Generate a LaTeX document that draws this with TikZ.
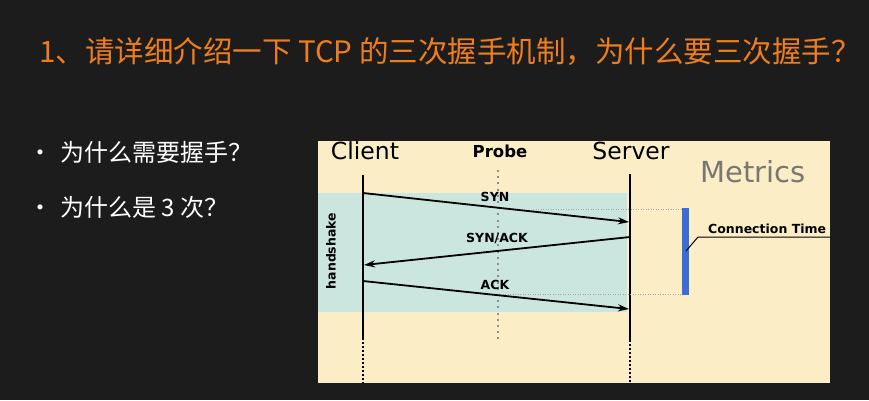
\documentclass[tikz,border=0pt]{standalone}
\usepackage{fontspec}
\setmainfont{DejaVu Sans}
\newfontfamily\cjk{Noto Sans CJK SC}
\usetikzlibrary{arrows.meta}
\definecolor{bgc}{HTML}{1C1C1C}
\definecolor{titlec}{HTML}{EE7D1E}
\definecolor{cream}{HTML}{FBEDC6}
\definecolor{band}{HTML}{CAE6DE}
\definecolor{barc}{HTML}{3B6ED4}
\definecolor{metc}{HTML}{7A7670}
\tikzset{
  lifeline/.style={line width=2.6pt},
  lifedots/.style={line width=2.6pt, dash pattern=on 2pt off 2pt},
  msg/.style={line width=1.8pt, -{Stealth[length=11pt,width=7pt]}},
  lbl/.style={font=\bfseries\fontsize{12.5}{14}\selectfont, inner sep=1pt},
  actor/.style={font=\fontsize{23.5}{26}\selectfont, inner sep=0pt},
  guide/.style={gray!70, line width=0.5pt, dotted},
  bullet/.style={anchor=west, text=white, inner sep=0pt, font=\cjk\fontsize{24}{27}\selectfont},
}
\begin{document}
\begin{tikzpicture}[x=1pt,y=-1pt]
\fill[bgc] (0,0) rectangle (869,400);
\useasboundingbox (0,0) rectangle (869,400);
% title
\node[anchor=west, text=titlec, inner sep=0pt, font=\cjk\fontsize{29.5}{32}\selectfont] (title) at (39,52) {1、请详细介绍一下 TCP 的三次握手机制，为什么要三次握手？};
% bullets
\node[bullet] (b1) at (28,152) {•\hspace{8pt}为什么需要握手？};
\node[bullet] (b2) at (28,207) {•\hspace{8pt}为什么是 3 次？};
% panel
\fill[cream] (318,141) rectangle (830,383);
\fill[band] (318,193) rectangle (627,312);
% actors
\node[actor] (client) at (365,151) {Client};
\node[font=\bfseries\fontsize{16.5}{19}\selectfont, inner sep=0pt] (probe) at (500,151) {Probe};
\node[actor] (server) at (631,151) {Server};
\node[text=metc, font=\fontsize{29}{32}\selectfont, inner sep=0pt] (metrics) at (753,172) {Metrics};
% coordinates
\coordinate (ct) at (363,175);
\coordinate (cm) at (363,338);
\coordinate (cb) at (363,383);
\coordinate (st) at (630,174);
\coordinate (sm) at (630,340);
\coordinate (sb) at (630,383);
\coordinate (pt) at (498,170);
\coordinate (pb) at (498,343);
% probe line
\draw[gray!90, line width=2pt, dash pattern=on 2pt off 4.2pt] (pt) -- (pb);
% lifelines
\draw[lifeline] (ct) -- (cm);
\draw[lifedots] (cm) -- (cb);
\draw[lifeline] (st) -- (sm);
\draw[lifedots] (sm) -- (sb);
% guides
\coordinate (g1a) at (533,209);
\coordinate (g1b) at (683,209);
\coordinate (g2a) at (500,294);
\coordinate (g2b) at (683,294);
\draw[guide] (g1a) -- (g1b);
\draw[guide] (g2a) -- (g2b);
% messages
\coordinate (m1a) at (363,193);
\coordinate (m1b) at (629,222);
\coordinate (m2a) at (630,237);
\coordinate (m2b) at (364,265);
\coordinate (m3a) at (363,281);
\coordinate (m3b) at (629,309);
\draw[msg] (m1a) -- (m1b);
\draw[msg] (m2a) -- (m2b);
\draw[msg] (m3a) -- (m3b);
\node[lbl] (syn) at (495,197) {SYN};
\node[lbl] (synack) at (497,238) {SYN/ACK};
\node[lbl] (ack) at (495,285) {ACK};
% handshake
\node[lbl, rotate=90] (hs) at (331,251) {handshake};
% bar
\fill[barc] (682,208) rectangle (689,295);
\coordinate (bp) at (686,251);
\coordinate (kn) at (698,237);
\coordinate (ke) at (830,237);
\draw[line width=1pt] (bp) -- (kn) -- (ke);
\begin{scope}
\clip (318,141) rectangle (830,383);
\node[lbl, anchor=base west] (ctime) at (707,233.5) {Connection Time};
\end{scope}
\end{tikzpicture}
\end{document}
